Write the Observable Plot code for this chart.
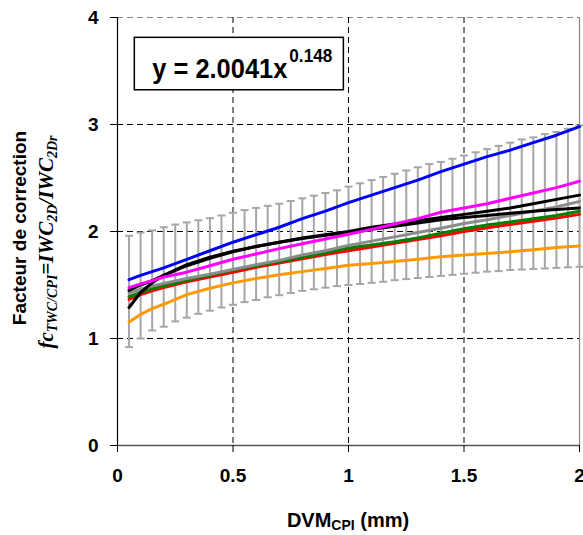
<!DOCTYPE html>
<html><head><meta charset="utf-8">
<script src="https://cdn.jsdelivr.net/npm/d3@7"></script>
<script src="https://cdn.jsdelivr.net/npm/@observablehq/plot@0.6"></script>
<style>body{margin:0;background:#fff}</style>
</head><body><div id="chart"></div>
<script>
// ---- data ----
const xs = [0.05,0.1,0.15,0.2,0.3,0.4,0.5,0.6,0.7,0.8,0.9,1.0,1.1,1.2,1.3,1.4,1.5,1.6,1.7,1.8,1.9,2.0];
const blue    = [1.55,1.59,1.625,1.66,1.74,1.82,1.90,1.97,2.04,2.12,2.19,2.27,2.34,2.41,2.48,2.56,2.63,2.70,2.76,2.83,2.90,2.98];
const magenta = [1.475,1.51,1.54,1.575,1.62,1.68,1.74,1.79,1.84,1.885,1.93,1.975,2.02,2.07,2.12,2.18,2.22,2.26,2.31,2.36,2.41,2.47];
const blackA  = [1.45,1.50,1.54,1.59,1.69,1.76,1.815,1.86,1.90,1.94,1.97,2.0,2.04,2.07,2.10,2.13,2.16,2.19,2.22,2.26,2.30,2.34];
const blackB  = [1.29,1.43,1.52,1.59,1.68,1.75,1.81,1.86,1.90,1.935,1.965,1.99,2.02,2.05,2.08,2.11,2.13,2.15,2.17,2.19,2.205,2.22];
const gray    = [1.425,1.46,1.49,1.515,1.56,1.60,1.645,1.69,1.73,1.78,1.82,1.87,1.91,1.95,1.99,2.03,2.075,2.11,2.15,2.19,2.23,2.28];
const green   = [1.39,1.43,1.465,1.49,1.545,1.59,1.64,1.68,1.72,1.76,1.80,1.845,1.875,1.905,1.94,1.985,2.025,2.06,2.09,2.12,2.15,2.19];
const red     = [1.365,1.41,1.445,1.475,1.53,1.575,1.62,1.665,1.705,1.745,1.785,1.82,1.855,1.89,1.925,1.96,2.0,2.035,2.065,2.095,2.125,2.16];
const orange  = [1.155,1.225,1.28,1.32,1.41,1.47,1.52,1.56,1.595,1.625,1.655,1.685,1.70,1.72,1.74,1.765,1.78,1.795,1.81,1.83,1.85,1.865];

const errX = [0.05,0.1,0.15,0.2,0.25,0.3,0.35,0.4,0.45,0.5,0.55,0.6,0.65,0.7,0.75,0.8,0.85,0.9,0.95,1.0,
              1.05,1.1,1.15,1.2,1.25,1.3,1.35,1.4,1.45,1.5,1.55,1.6,1.65,1.7,1.75,1.8,1.85,1.9,1.95,2.0];
const errHigh = [1.96,1.99,2.01,2.04,2.065,2.085,2.105,2.125,2.15,2.175,2.20,2.22,2.24,2.26,2.285,2.31,2.335,2.36,2.385,2.42,
                 2.45,2.48,2.51,2.54,2.57,2.60,2.63,2.65,2.68,2.71,2.74,2.77,2.80,2.83,2.86,2.88,2.91,2.93,2.96,2.99];
const errLow  = [0.92,1.00,1.075,1.11,1.16,1.195,1.23,1.26,1.29,1.315,1.34,1.36,1.385,1.405,1.425,1.445,1.46,1.475,1.49,1.50,
                 1.51,1.52,1.53,1.545,1.555,1.565,1.575,1.585,1.595,1.605,1.615,1.625,1.63,1.64,1.645,1.65,1.655,1.66,1.665,1.67];

const xTicks = [0,0.5,1,1.5,2];
const yTicks = [0,1,2,3,4];
const fitText = "y = 2.0041x";
const fitExp = "0.148";

// ---- tables ----
const seriesList = [
  {name:"orange", color:"#ff9900", values:orange},
  {name:"red", color:"#ff0000", values:red},
  {name:"green", color:"#008000", values:green},
  {name:"gray", color:"#8c8c8c", values:gray},
  {name:"blackB", color:"#000000", values:blackB},
  {name:"blackA", color:"#000000", values:blackA},
  {name:"magenta", color:"#ff00ff", values:magenta},
  {name:"blue", color:"#0000ff", values:blue}
];
const rows = seriesList.flatMap(s => s.values.map((v,i) => ({series:s.name, color:s.color, x:xs[i], y:v})));
const err = errX.map((x,i) => ({x, lo:errLow[i], hi:errHigh[i]}));

const capSymbol = {draw(ctx, size){ const w = Math.sqrt(size/Math.PI); ctx.moveTo(-w,0); ctx.lineTo(w,0); }};

const chart = Plot.plot({
  width: 583, height: 535,
  marginLeft: 117, marginRight: 4, marginTop: 17, marginBottom: 90,
  style: {fontFamily: "Arial, 'Liberation Sans', sans-serif", fontWeight: "bold", fontSize: "19px", color: "#000", background: "#fff"},
  x: {domain: [0,2]},
  y: {domain: [0,4]},
  marks: [
    Plot.ruleY([1,2,3], {stroke:"#000", strokeWidth:1, strokeDasharray:"6,4"}),
    Plot.ruleY([4], {stroke:"#888", strokeWidth:1, strokeDasharray:"6,4"}),
    Plot.ruleX([0.5,1,1.5], {stroke:"#000", strokeWidth:1, strokeDasharray:"6,4"}),
    Plot.ruleX([2], {stroke:"#888", strokeWidth:1.2}),
    Plot.ruleX(err, {x:"x", y1:"lo", y2:"hi", stroke:"#a6a6a6", strokeWidth:2}),
    Plot.dot(err, {x:"x", y:"hi", symbol:capSymbol, r:4, stroke:"#a6a6a6", strokeWidth:2, fill:"none"}),
    Plot.dot(err, {x:"x", y:"lo", symbol:capSymbol, r:4, stroke:"#a6a6a6", strokeWidth:2, fill:"none"}),
    Plot.line(rows, {x:"x", y:"y", z:"series", stroke:"color", strokeWidth:3, curve:"linear"}),
    Plot.ruleY([0], {stroke:"#555", strokeWidth:1.5}),
    Plot.ruleX([0], {stroke:"#000", strokeWidth:1.2}),
    Plot.axisX({ticks:xTicks, tickFormat:d=>String(d), tickSize:7, tickPadding:16, label:null, stroke:"#000"}),
    Plot.axisY({ticks:yTicks, tickFormat:d=>String(d), tickSize:7, tickPadding:12, label:null, stroke:"#000"})
  ]
});
document.getElementById("chart").appendChild(chart);

const svg = d3.select(chart);
const sx = chart.scale("x"), sy = chart.scale("y");
const sans = "Arial, 'Liberation Sans', sans-serif";

// Equation box (placed in data coordinates)
const bx1 = sx.apply(0.075), bx2 = sx.apply(0.98), by1 = sy.apply(3.81), by2 = sy.apply(3.32);
svg.append("rect").attr("x", bx1).attr("y", by1).attr("width", bx2-bx1).attr("height", by2-by1)
  .attr("fill","#fff").attr("stroke","#000").attr("stroke-width",1.5);
svg.append("text").attr("x", bx1 + 18).attr("y", by1 + 41).attr("text-anchor","start")
  .attr("font-family",sans).attr("font-weight","bold").attr("font-size",27)
  .attr("textLength",135).attr("lengthAdjust","spacingAndGlyphs").text(fitText);
svg.append("text").attr("x", bx1 + 155).attr("y", by1 + 25).attr("text-anchor","start")
  .attr("font-family",sans).attr("font-weight","bold").attr("font-size",18)
  .attr("textLength",43).attr("lengthAdjust","spacingAndGlyphs").text(fitExp);

// x axis title
const xt = svg.append("text").attr("x", sx.apply(1)).attr("y", 527).attr("text-anchor","middle")
  .attr("font-family",sans).attr("font-weight","bold").attr("font-size",20);
xt.append("tspan").text("DVM");
xt.append("tspan").text("CPI").attr("font-size",14).attr("dy",3);
xt.append("tspan").text(" (mm)").attr("dy",-3);

// y axis titles
svg.append("text").attr("transform","translate(26,228) rotate(-90)").attr("text-anchor","middle")
  .attr("font-family",sans).attr("font-weight","bold").attr("font-size",19)
  .text("Facteur de correction");
const yt = svg.append("text").attr("transform","translate(53,242) rotate(-90)").attr("text-anchor","middle")
  .attr("font-family","'Liberation Serif', 'Times New Roman', serif").attr("font-style","italic").attr("font-size",21);
yt.append("tspan").text("fc");
yt.append("tspan").text("TWC/CPI").attr("font-size",14).attr("dy",4);
yt.append("tspan").text("=IWC").attr("dy",-4);
yt.append("tspan").text("2D").attr("font-size",14).attr("dy",4);
yt.append("tspan").text("/IWC").attr("dy",-4);
yt.append("tspan").text("2Dr").attr("font-size",14).attr("dy",4);
</script></body></html>
